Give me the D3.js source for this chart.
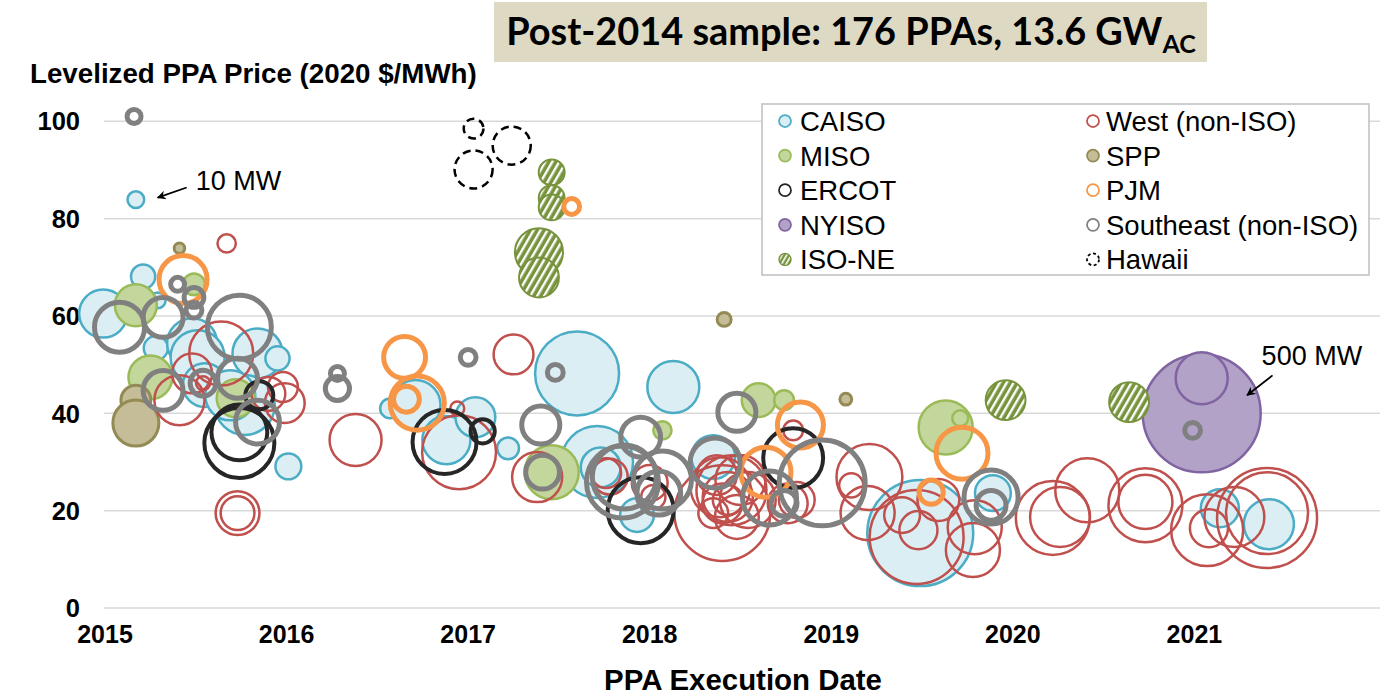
<!DOCTYPE html>
<html><head><meta charset="utf-8">
<script src="https://cdn.jsdelivr.net/npm/d3@7"></script>
<style>body{margin:0;background:#fff;} svg{display:block;}</style>
</head><body><svg id="c" width="1385" height="699"></svg>
<script>
// [execution date (decimal year), levelized price (2020 $/MWh), capacity (MW)]
const caiso = [
 [2015.17,83.9,10],[2015.21,68.1,21],[2014.99,60.5,83],[2015.29,63.2,9],[2015.28,53.4,21],
 [2015.48,54.4,90],[2015.51,51.5,105],[2015.84,52.3,90],[2015.95,51.3,21],[2015.77,41.7,129],
 [2015.55,45.8,69],[2015.69,43.7,90],[2016.01,29.1,24],[2016.57,41.0,14],[2016.71,41.7,90],
 [2016.88,34.5,83],[2017.04,39.2,57],[2017.22,32.8,17],[2017.60,48.2,253],[2018.13,45.4,97],
 [2017.71,30.0,186],[2017.73,28.9,57],[2017.93,19.1,41],[2018.35,31.0,69],[2019.49,15.4,403],
 [2019.89,23.6,46],[2021.14,20.5,52],[2021.41,17.2,90]
];
const miso = [
 [2015.17,62.2,63],[2015.49,66.5,17],[2015.25,47.4,69],[2015.72,43.1,52],[2017.46,27.9,105],
 [2018.07,36.5,12],[2018.60,42.7,41],[2018.74,42.7,14],[2019.63,37.1,105],[2019.71,39.0,9]
];
const spp = [
 [2015.41,73.9,4],[2015.17,42.7,32],[2015.17,38.0,76],[2018.41,59.3,7],[2019.08,42.9,5]
];
const nyiso = [
 [2021.04,40.0,500],[2021.04,47.2,97]
];
const isone = [
 [2017.46,89.5,24],[2017.46,84.2,24],[2017.46,82.3,24],[2017.39,73.1,83],[2017.39,67.9,57],
 [2019.96,42.7,57],[2020.64,42.3,57]
];
const west = [
 [2015.67,74.9,12],[2015.64,52.3,147],[2015.48,48.2,57],[2015.41,42.7,90],[2015.54,46.2,7],
 [2015.98,45.4,32],[2015.99,42.1,57],[2015.90,44.0,41],[2015.73,19.5,69],[2015.73,19.5,41],
 [2016.38,34.5,97],[2016.94,41.0,7],[2016.95,32.0,196],[2017.25,52.1,57],[2017.38,26.9,90],
 [2017.76,27.7,32],[2017.78,27.0,46],[2018.00,25.7,46],[2018.02,22.8,21],
 [2018.40,19.5,330],[2018.39,24.8,129],[2018.43,22.8,90],[2018.40,21.5,57],[2018.43,22.2,32],
 [2018.37,27.3,57],[2018.50,26.3,90],[2018.48,18.7,69],[2018.35,19.5,32],[2018.54,22.2,112],
 [2018.45,24.2,176],[2018.76,21.5,57],[2018.81,22.2,46],[2018.79,36.5,14],
 [2019.21,26.9,156],[2019.20,19.5,105],[2019.11,25.2,21],[2019.47,14.6,317],[2019.39,19.1,46],
 [2019.48,16.0,52],[2019.59,22.2,63],[2019.79,16.6,105],[2019.78,11.9,105],
 [2020.22,18.5,196],[2020.26,18.7,129],[2020.41,24.2,147],[2020.73,21.1,196],[2020.73,21.8,105],
 [2021.07,16.0,186],[2021.08,16.4,52],[2021.22,18.7,129],[2021.40,18.5,359],[2021.40,19.5,241]
];
const ercot = [
 [2015.74,33.9,176],[2015.74,36.1,112],[2015.85,43.7,28],[2016.87,34.1,147],[2017.08,36.3,21],
 [2017.95,20.1,156],[2018.79,30.8,129]
];
const pjm = [
 [2015.43,67.5,83],[2016.65,51.5,63],[2016.72,42.1,105],[2016.66,42.9,24],[2017.57,82.5,9],
 [2018.83,37.6,76],[2018.64,27.9,90],[2019.55,23.8,21],[2019.72,31.8,97]
];
const southeast = [
 [2015.16,101.0,7],[2015.40,66.5,7],[2015.49,63.8,14],[2015.49,61.2,9],[2015.08,57.7,90],
 [2015.32,59.7,57],[2015.74,57.7,147],[2015.54,46.2,24],[2015.73,47.2,57],[2015.32,44.7,57],
 [2015.84,38.2,69],[2016.28,48.2,7],[2016.28,45.1,21],[2017.00,51.5,9],[2017.48,48.4,9],
 [2017.40,37.6,52],[2017.41,27.9,41],[2017.95,35.1,57],[2017.85,25.9,186],[2017.86,26.9,147],
 [2018.07,26.3,121],[2018.05,23.6,69],[2018.48,40.2,52],[2018.36,29.8,90],[2018.66,22.6,105],
 [2018.74,21.5,24],[2018.95,25.7,265],[2019.88,22.8,105],[2019.88,21.1,32],[2020.99,36.5,9]
];
const hawaii = [
 [2017.03,98.5,14],[2017.24,95.0,52],[2017.03,90.1,52]
];
const yTicks = [0,20,40,60,80,100];
const xTicks = [2015,2016,2017,2018,2019,2020,2021];
const legendLeft = ["CAISO","MISO","ERCOT","NYISO","ISO-NE"];
const legendRight = ["West (non-ISO)","SPP","PJM","Southeast (non-ISO)","Hawaii"];
const notes = [
 {text:"10 MW", tx:2015.50, ty:85.8, from:[2015.45,86.4], to:[2015.29,84.3]},
 {text:"500 MW", tx:2021.37, ty:49.9, from:[2021.43,47.8], to:[2021.29,43.7]}
];

const styles = {
 "CAISO":{data:caiso, fill:"#daeef3", stroke:"#4bacc6", sw:2.5},
 "MISO":{data:miso, fill:"#c3d69b", stroke:"#9bbb59", sw:2.5},
 "SPP":{data:spp, fill:"#c4bd97", stroke:"#948a54", sw:3},
 "NYISO":{data:nyiso, fill:"#b3a2c7", stroke:"#8064a2", sw:2.5},
 "ISO-NE":{data:isone, fill:"url(#hatch)", stroke:"#77933c", sw:2},
 "West (non-ISO)":{data:west, fill:"none", stroke:"#c0504d", sw:2.5},
 "ERCOT":{data:ercot, fill:"none", stroke:"#262626", sw:4},
 "PJM":{data:pjm, fill:"none", stroke:"#f79646", sw:5},
 "Southeast (non-ISO)":{data:southeast, fill:"none", stroke:"#808080", sw:5},
 "Hawaii":{data:hawaii, fill:"none", stroke:"#000", sw:2.5, dash:"8,5"}
};
const drawOrder = ["CAISO","MISO","SPP","NYISO","ISO-NE","West (non-ISO)","ERCOT","PJM","Southeast (non-ISO)","Hawaii"];

const svg = d3.select("#c");
const FONT = "'Liberation Sans', Arial, sans-serif";
const x = d3.scaleLinear().domain([2015,2022]).range([105,1376]);
const y = d3.scaleLinear().domain([0,100]).range([608,121.3]);
const r = d3.scaleSqrt().domain([0,500]).range([0,59]);

const defs = svg.append("defs");
const pat = defs.append("pattern").attr("id","hatch").attr("patternUnits","userSpaceOnUse")
 .attr("width",6).attr("height",6).attr("patternTransform","rotate(30)");
pat.append("rect").attr("width",6).attr("height",6).attr("fill","#77933c");
pat.append("rect").attr("width",2.4).attr("height",6).attr("fill","#fff");
const patS = defs.append("pattern").attr("id","hatchS").attr("patternUnits","userSpaceOnUse")
 .attr("width",4).attr("height",4).attr("patternTransform","rotate(30)");
patS.append("rect").attr("width",4).attr("height",4).attr("fill","#77933c");
patS.append("rect").attr("width",1.6).attr("height",4).attr("fill","#fff");
defs.append("marker").attr("id","arr").attr("viewBox","0 0 10 10").attr("refX",9).attr("refY",5)
 .attr("markerWidth",9).attr("markerHeight",9).attr("markerUnits","userSpaceOnUse").attr("orient","auto")
 .append("path").attr("d","M0,0 L10,5 L0,10 L3,5 z").attr("fill","#000");

// title
const tg = svg.append("g");
tg.append("rect").attr("x",494).attr("y",2).attr("width",713).attr("height",60).attr("fill","#ddd9c3");
const title = tg.append("text").attr("x",851).attr("y",45).attr("text-anchor","middle")
 .attr("font-family","Lato, 'Open Sans', sans-serif").attr("font-weight","bold").attr("font-size",36).attr("fill","#000");
title.append("tspan").text("Post-2014 sample: 176 PPAs, 13.6 GW");
title.append("tspan").attr("font-size","0.66em").attr("dy",8).text("AC");
{const l=title.node().getComputedTextLength(); title.attr("font-size",36*690/l);}

// y title
const yt = svg.append("text").attr("x",30).attr("y",83).attr("font-family",FONT).attr("font-weight","bold")
 .attr("font-size",26).text("Levelized PPA Price (2020 $/MWh)");
{const l=yt.node().getComputedTextLength(); yt.attr("font-size",26*447/l);}

// grid
svg.append("g").selectAll("line").data(yTicks).join("line")
 .attr("x1",104).attr("x2",1380).attr("y1",d=>y(d)).attr("y2",d=>y(d))
 .attr("stroke","#d9d9d9").attr("stroke-width",1.5);
svg.append("g").selectAll("text").data(yTicks).join("text")
 .attr("x",80).attr("y",d=>y(d)).attr("dy","0.36em").attr("text-anchor","end")
 .attr("font-family",FONT).attr("font-weight","bold").attr("font-size",25.5).text(d=>d);
svg.append("g").selectAll("text").data(xTicks).join("text")
 .attr("x",d=>x(d)).attr("y",643).attr("text-anchor","middle")
 .attr("font-family",FONT).attr("font-weight","bold").attr("font-size",25).text(d=>d);
const xt = svg.append("text").attr("x",743).attr("y",690).attr("text-anchor","middle")
 .attr("font-family",FONT).attr("font-weight","bold").attr("font-size",26).text("PPA Execution Date");
{const l=xt.node().getComputedTextLength(); xt.attr("font-size",26*278/l);}

// bubbles
const bg = svg.append("g");
drawOrder.forEach(k=>{
 const s = styles[k];
 bg.append("g").selectAll("circle").data(s.data).join("circle")
  .attr("cx",d=>x(d[0])).attr("cy",d=>y(d[1])).attr("r",d=>r(d[2]))
  .attr("fill",s.fill).attr("stroke",s.stroke).attr("stroke-width",s.sw)
  .attr("stroke-dasharray",s.dash||null);
});

// legend
const lg = svg.append("g");
lg.append("rect").attr("x",762).attr("y",104).attr("width",607).attr("height",171)
 .attr("fill","#fff").attr("stroke","#bfbfbf").attr("stroke-width",1.5);
const rowY = i => 121 + i*34.6;
[[legendLeft,785,800],[legendRight,1093,1106]].forEach(([names,mx,tx])=>{
 names.forEach((n,i)=>{
  const s = styles[n];
  lg.append("circle").attr("cx",mx).attr("cy",rowY(i)).attr("r",6)
   .attr("fill", n==="ISO-NE" ? "url(#hatchS)" : s.fill).attr("stroke",s.stroke)
   .attr("stroke-width", Math.min(s.sw,2.5)*0.7).attr("stroke-dasharray", s.dash ? "3,2.5" : null);
  lg.append("text").attr("x",tx).attr("y",rowY(i)).attr("dy","0.36em")
   .attr("font-family",FONT).attr("font-size",27.5).text(n);
 });
});

// annotations
const ag = svg.append("g");
notes.forEach(n=>{
 ag.append("text").attr("x",x(n.tx)).attr("y",y(n.ty)).attr("font-family",FONT).attr("font-size",27).text(n.text);
 ag.append("line").attr("x1",x(n.from[0])).attr("y1",y(n.from[1])).attr("x2",x(n.to[0])).attr("y2",y(n.to[1]))
  .attr("stroke","#000").attr("stroke-width",1.8).attr("marker-end","url(#arr)");
});
</script></body></html>
